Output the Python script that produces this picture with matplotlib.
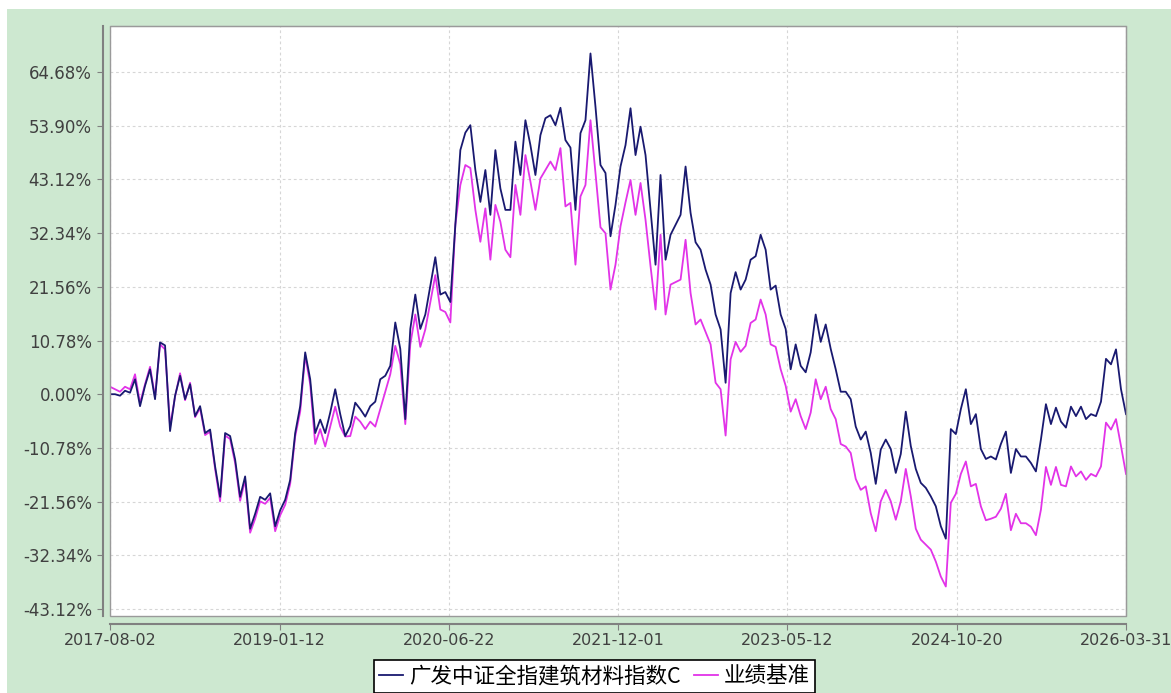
import matplotlib
matplotlib.use('Agg')
import matplotlib.pyplot as plt
from matplotlib.patches import Rectangle
import pandas as pd

plt.rcParams['font.family'] = ['DejaVu Sans', 'Noto Sans CJK SC']

# cumulative return (%) at evenly spaced dates
fund = [0, 0, -0.3, 0.7, 0.3, 3.0, -2.4, 1.7, 5.0, -1.0,
        10.4, 9.8, -7.4, -0.3, 3.7, -1.0, 2.0, -4.4, -2.4, -7.8,
        -7.1, -14.5, -20.6, -7.8, -8.4, -13.1, -20.6, -16.5, -27.0, -24.0,
        -20.6, -21.2, -19.9, -26.5, -23.3, -21.2, -17.2, -7.8, -2.4, 8.4,
        3.0, -7.8, -5.1, -7.8, -3.7, 1.0,
        -4, -8.4, -6.4, -1.7, -3, -4.5, -2.4, -1.5, 3, 3.7,
        5.7, 14.4, 9.1, -5, 13.1, 20, 13.1, 16, 21.8, 27.5,
        20, 20.5, 18.5, 34, 49, 52.5, 54, 45, 38.6, 45,
        36, 49, 41.3, 37, 37, 50.7, 44, 55, 50, 44,
        52, 55.4, 56, 54, 57.5,
        51, 49.5, 37, 52.4, 55, 68.4, 57.7, 46, 44.4, 31.7,
        38, 45.7, 50, 57.4, 48, 53.7, 48, 37, 26, 44,
        27, 32, 34, 36, 45.7, 36.4, 30.5, 29, 25, 22,
        16, 13, 2.3, 20.3, 24.5, 21, 23, 27, 27.7, 32,
        29,
        21, 21.8, 16, 13.1, 5, 10, 5.7, 4.4, 8.4, 16,
        10.5, 14, 9.1, 5, 0.5, 0.5, -1, -6.5, -9.1, -7.5,
        -11.8, -18, -11.1, -9.1, -11, -15.8, -12, -3.5, -10.4, -15,
        -17.8, -18.8, -20.5, -22.5, -26.5, -29, -7, -8,
        -3, 1.0, -6, -4, -11, -13, -12.5, -13.1, -10, -7.5,
        -15.8, -11, -12.5, -12.5, -13.8, -15.5, -9.1, -2, -6, -2.7,
        -5.5, -6.7, -2.5, -4.4, -2.5, -5, -4, -4.4, -1.5, 7.1,
        6, 9, 1, -4]

bench = [1.5, 1.0, 0.5, 1.5, 1.0, 4.0, -1.8, 2.0, 5.5, -0.5,
         10.0, 9.0, -6.5, -0.5, 4.2, -1.2, 2.3, -4.6, -2.8, -8.2,
         -7.5, -15.0, -21.5, -8.3, -9.0, -13.8, -21.4, -17.2, -27.8, -25.0,
         -21.5, -22.0, -20.8, -27.5, -24.3, -22.2, -18.0, -8.5, -3.5, 7.8,
         2.0, -10.0, -7.0, -10.5, -6.5, -2.5,
         -6.5, -8.5, -8.4, -4.5, -5.5, -7, -5.5, -6.5, -3, 0.5,
         4, 9.7, 6, -6, 10, 16, 9.5, 13, 18.5, 23.9,
         17, 16.5, 14.4, 34, 42, 46, 45.4, 37, 30.6, 37.3,
         27, 38, 34.6, 29, 27.5, 42, 36, 48, 42.7, 37,
         43.3, 45, 46.7, 45, 49.4,
         37.7, 38.4, 26, 39.7, 42, 55, 44.4, 33.5, 32.3, 21,
         26, 33.7, 38.5, 43, 36, 42.4, 35, 25.7, 17, 32,
         16, 22, 22.5, 23, 31, 20.3, 14, 15, 12.5, 10,
         2.3, 1, -8.3, 7, 10.5, 8.5, 9.7, 14.3, 15, 19,
         16,
         10, 9.5, 5, 1.7, -3.5, -1, -4.4, -7, -3.7, 3,
         -1, 1.5, -3, -5, -10, -10.5, -11.8, -17, -19.2, -18.5,
         -23.9, -27.5, -21.5, -19.2, -21.5, -25.2, -21.5, -15, -20.5, -27,
         -29.2, -30.2, -31.2, -33.6, -36.6, -38.6, -21.8, -20,
         -16, -13.5, -18.5, -18, -22.5, -25.3, -25, -24.6, -23, -20,
         -27.3, -24, -25.9, -25.9, -26.6, -28.3, -23.2, -14.6, -18.2, -14.6,
         -18.2, -18.5, -14.5, -16.5, -15.5, -17.2, -16, -16.5, -14.5, -5.7,
         -7.1, -5, -10.4, -16]

tick_dates = ['2017-08-02', '2019-01-12', '2020-06-22', '2021-12-01',
              '2023-05-12', '2024-10-20', '2026-03-31']
y_ticks = [-43.12, -32.34, -21.56, -10.78, 0.0, 10.78, 21.56, 32.34, 43.12, 53.90, 64.68]
names = ['广发中证全指建筑材料指数C', '业绩基准']

dates = pd.date_range(tick_dates[0], tick_dates[-1], periods=len(fund))

W, H = 1171, 693
fig = plt.figure(figsize=(W / 100, H / 100), dpi=100)
fig.patch.set_facecolor('white')
fig.add_artist(Rectangle((7 / W, 0), 1 - 7 / W, 1 - 9 / H, transform=fig.transFigure,
                         facecolor='#cde8d0', edgecolor='none', zorder=0))

ax = fig.add_axes([110 / W, 77 / H, 1016 / W, 590 / H])
ax.set_facecolor('white')
l2, = ax.plot(dates, bench, color='#e233e8', lw=1.3, zorder=3)
l1, = ax.plot(dates, fund, color='#191970', lw=1.3, zorder=4)

ax.set_xlim(pd.Timestamp(tick_dates[0]), pd.Timestamp(tick_dates[-1]))
ax.set_ylim(-44.52, 73.91)
ax.set_xticks(pd.to_datetime(tick_dates))
ax.set_xticklabels(tick_dates)
ax.set_yticks(y_ticks)
ax.set_yticklabels(['%.2f%%' % v for v in y_ticks])

ax.set_axisbelow(True)
ax.grid(True, color='#d6d6d6', linestyle=(0, (2.5, 2.5)), linewidth=0.8)

for s in ['top', 'right']:
    ax.spines[s].set_color('#9a9a9a')
ax.spines['left'].set_position(('outward', 5))
ax.spines['bottom'].set_position(('outward', 6))
for s in ['left', 'bottom']:
    ax.spines[s].set_color('#808080')
    ax.spines[s].set_linewidth(1.5)
ax.add_patch(Rectangle((0, 0), 1, 1, transform=ax.transAxes, fill=False,
                       edgecolor='#9a9a9a', lw=1, clip_on=False, zorder=5))

ax.tick_params(axis='both', colors='#808080', labelcolor='#404040', labelsize=12, length=4)
ax.tick_params(axis='y', pad=4)
ax.tick_params(axis='x', pad=2, labelsize=11.5)

leg = fig.legend([l1, l2], names, loc='upper center', bbox_to_anchor=(0.5077, 1 - 660 / H),
                 ncol=2, prop={'family': ['Noto Sans CJK SC', 'DejaVu Sans'], 'size': 15.5},
                 frameon=True, fancybox=False, edgecolor='black', framealpha=1,
                 borderpad=0.25, handlelength=1.1, handletextpad=0.3,
                 columnspacing=0.6, borderaxespad=0)
leg.get_frame().set_linewidth(1.2)

fig.savefig('out.png', dpi=100)
